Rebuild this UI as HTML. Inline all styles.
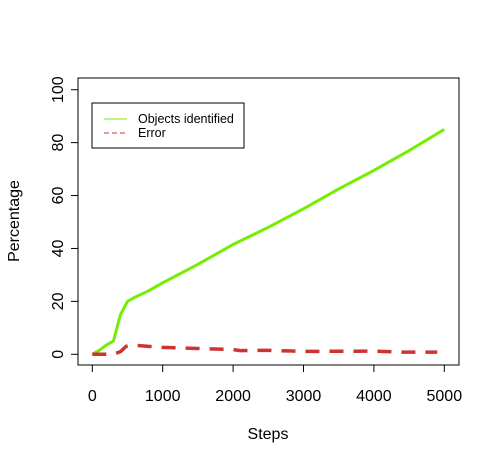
<!DOCTYPE html>
<html><head><meta charset="utf-8"><style>
body{margin:0;background:#fff}
svg text{font-family:"Liberation Sans",Arial,sans-serif;fill:#000}
</style></head><body>
<svg id="chart" width="499" height="463" viewBox="0 0 499 463">
<rect x="78" y="78" width="381" height="287" fill="none" stroke="#000" stroke-width="1"/>
<g id="xaxis"></g>
<g id="yaxis"></g>
<g id="series"></g>
<text x="268" y="439" font-size="16" text-anchor="middle">Steps</text>
<text transform="translate(19,221) rotate(-90)" font-size="16" text-anchor="middle">Percentage</text>
<g>
<rect x="92" y="103" width="152" height="45" fill="#fff" stroke="#000" stroke-width="1"/>
<line x1="104" y1="119" x2="127" y2="119" stroke="#76EE00" stroke-width="1"/>
<text x="138" y="123" font-size="12.5">Objects identified</text>
<line x1="104" y1="133" x2="127" y2="133" stroke="#CD3333" stroke-width="1" stroke-dasharray="5,3"/>
<text x="138" y="137" font-size="12.5">Error</text>
</g>
</svg>
<script>
const xTicks=[0,1000,2000,3000,4000,5000];
const yTicks=[0,20,40,60,80,100];
const objSteps=[0,100,200,300,350,400,500,600,800,1000,1500,1900,2000,2500,3000,3500,4000,4500,5000];
const objValues=[0,1.5,3.5,5,10,15,20,21.5,24,27,34,40,41.5,48,55,62.5,69.5,77,85];
const errSteps=[0,200,300,400,480,600,800,1000,1500,2000,2100,2500,3000,4000,4400,4900];
const errValues=[0,0,0,1,3,3.4,3,2.6,2.2,1.8,1.4,1.5,1.1,1.2,0.8,0.8];
const NS='http://www.w3.org/2000/svg';
const X=v=>92.3+v*0.07040;
const Y=v=>354.3-v*2.646;
function mk(tag,attrs,parent){const e=document.createElementNS(NS,tag);for(const k in attrs)e.setAttribute(k,attrs[k]);parent.appendChild(e);return e;}
const xa=document.getElementById('xaxis'),ya=document.getElementById('yaxis'),sg=document.getElementById('series');
mk('line',{x1:X(xTicks[0]),x2:X(xTicks[xTicks.length-1]),y1:365,y2:365,stroke:'#000'},xa);
xTicks.forEach(t=>{
 const l=mk('line',{x1:X(t),x2:X(t),y1:365,y2:372,stroke:'#000'},xa);
 
 
 const tx=mk('text',{x:X(t),y:401,'font-size':16,'text-anchor':'middle'},xa);tx.textContent=t;
 
 
});
mk('line',{x1:78,x2:78,y1:Y(yTicks[0]),y2:Y(yTicks[yTicks.length-1]),stroke:'#000'},ya);
yTicks.forEach(t=>{
 const l=mk('line',{x1:71,x2:78,y1:Y(t),y2:Y(t),stroke:'#000'},ya);
 
 
 const tx=mk('text',{transform:`translate(63,${Y(t)}) rotate(-90)`,'font-size':16,'text-anchor':'middle'},ya);tx.textContent=t;
 
 
});
const p1=mk('polyline',{points:objSteps.map((s,i)=>X(s)+','+Y(objValues[i])).join(' '),fill:'none',stroke:'#76EE00','stroke-width':3,'stroke-linejoin':'round'},sg);


const p2=mk('polyline',{points:errSteps.map((s,i)=>X(s)+','+Y(errValues[i])).join(' '),fill:'none',stroke:'#CD3333','stroke-width':3.5,'stroke-dasharray':'14,10'},sg);


</script>
</body></html>
